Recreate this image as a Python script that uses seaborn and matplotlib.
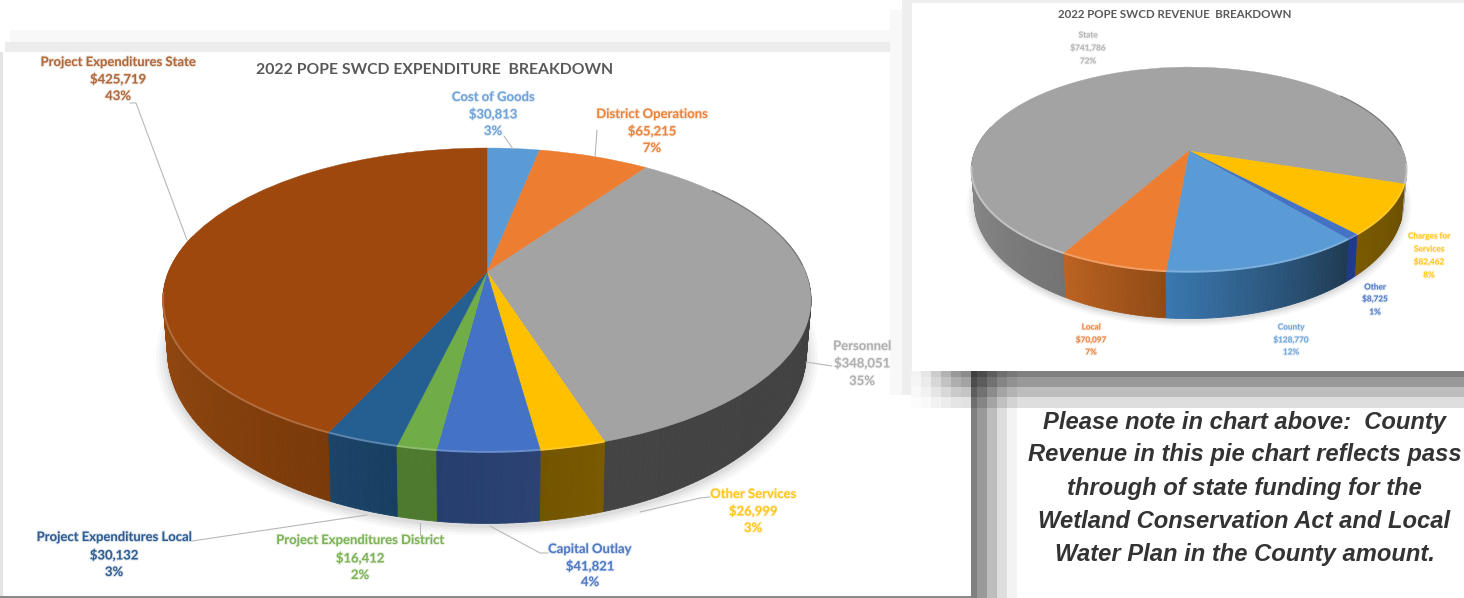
import numpy as np
import matplotlib
matplotlib.use("Agg")
import matplotlib.pyplot as plt
import matplotlib.patheffects as pe
from matplotlib.colors import to_rgb
from matplotlib.patches import Rectangle
from matplotlib.transforms import Transform
import seaborn as sns

sns.set_theme(style="white")
plt.rcParams["font.family"] = ["Lato", "DejaVu Sans"]

# ---- data ----
exp_names = ["Cost of Goods", "District Operations", "Personnel", "Other Services", "Capital Outlay",
             "Project Expenditures District", "Project Expenditures Local", "Project Expenditures State"]
exp_values = [30813, 65215, 348051, 26999, 41821, 16412, 30132, 425719]
exp_pcts = [3, 7, 35, 3, 4, 2, 3, 43]
exp_top = ["#5B9BD5", "#ED7D31", "#A3A3A3", "#FFC000", "#4472C4", "#70AD47", "#255E91", "#9E480E"]
exp_text = ["#6FA3D8", "#E9843F", "#B0B0B0", "#FFC61E", "#4F79C4", "#7DB257", "#2F5D92", "#B0683A"]
exp_side_a = ["#3A6E9F", "#A9561F", "#3F3F3F", "#7A5A00", "#2B4272", "#4E7A2F", "#183F62", "#7A3A0A"]
exp_side_b = ["#3A6E9F", "#A9561F", "#444444", "#735500", "#263E6E", "#4E7A2F", "#1A4468", "#A14F12"]
exp_rim = [0.2, 0.2, 0.0, 0.15, 0.2, 0.2, 0.25, 0.2]

rev_names = ["State", "Charges for\nServices", "Other", "County", "Local"]
rev_values = [741786, 82462, 8725, 128770, 70097]
rev_pcts = [72, 8, 1, 12, 7]
rev_top = ["#A3A3A3", "#FFC000", "#4472C4", "#5B9BD5", "#ED7D31"]
rev_text = ["#B4B4B4", "#FFC61E", "#4F79C4", "#6FA3D8", "#E9843F"]
rev_side_a = ["#737373", "#6B4E00", "#1F3A8A", "#1F3A52", "#8F4A15"]
rev_side_b = ["#A6A6A6", "#7A5A00", "#1F3A8A", "#3A78B0", "#BD6222"]
rev_rim = [0.35, 0.15, 0.2, 0.2, 0.25]

note_lines = ["Please note in chart above:  County",
              "Revenue in this pie chart reflects pass",
              "through of state funding for the",
              "Wetland Conservation Act and Local",
              "Water Plan in the County amount."]


class Perspective(Transform):
    """Maps the unit-circle pie onto a tilted disc in pixel coordinates."""
    input_dims = 2
    output_dims = 2

    def __init__(self, cx, cy, a, b, k):
        super().__init__()
        self.cx, self.cy, self.a, self.b, self.k = cx, cy, a, b, k

    def transform_non_affine(self, values):
        v = np.asarray(values, float)
        d = 1 + self.k * v[:, 1]
        return np.column_stack([self.cx + self.a * v[:, 0] / d, self.cy - self.b * v[:, 1] / d])


W, H = 1464, 598
fig = plt.figure(figsize=(W / 100, H / 100), dpi=100, facecolor="white")
ax = fig.add_axes([0, 0, 1, 1])


def rect(x0, y0, x1, y1, color, z=0):
    ax.add_patch(Rectangle((x0, y0), x1 - x0, y1 - y0, fc=color, ec="none", zorder=z))


def blend(c, other, t):
    c, other = np.array(to_rgb(c)), np.array(to_rgb(other))
    return tuple(c + (other - c) * t)


def draw_pie(values, top, side_a, side_b, rims, start, tmap, bmap, z=5, shadow=3):
    values = np.asarray(values, float)
    frac = values / values.sum()
    edges = start - np.concatenate([[0], np.cumsum(frac)]) * 360

    # soft shadow under the disc
    tt = np.radians(np.linspace(0, 360, 181))
    circ = np.column_stack([np.cos(tt), np.sin(tt)])
    for e, al in [(1.035, .05), (1.025, .06), (1.015, .07), (1.006, .09)]:
        p = bmap.transform_non_affine(circ * e)
        ax.fill(p[:, 0], p[:, 1] + shadow, color="#777777", alpha=al, lw=0, zorder=z)

    # side wall: the colour ramp runs over the visible part of each slice only
    quads = []
    for i in range(len(values)):
        n = max(2, int(abs(edges[i + 1] - edges[i]) / 1.0))
        ang = np.linspace(edges[i], edges[i + 1], n + 1)
        vis = [j for j in range(n) if np.sin(np.radians((ang[j] + ang[j + 1]) / 2)) < 0.25]
        for m, j in enumerate(vis):
            a0, a1 = np.radians(ang[j]), np.radians(ang[j + 1])
            u = np.array([[np.cos(a0), np.sin(a0)], [np.cos(a1), np.sin(a1)]])
            col = blend(side_a[i], side_b[i], (m + .5) / len(vis))
            quads.append((-u[:, 1].mean(), u, col))
    for _, u, col in sorted(quads, key=lambda q: q[0]):
        p0 = tmap.transform_non_affine(u)
        p1 = bmap.transform_non_affine(u[::-1])
        poly = np.vstack([p0, p1])
        ax.fill(poly[:, 0], poly[:, 1], color=col, lw=0.6, ec=col, zorder=z + 1)

    # top surface through the library's own pie
    ax.pie(values, colors=top, startangle=start, counterclock=False, radius=1,
           wedgeprops={"transform": tmap + ax.transData, "linewidth": 0.3})
    for w in ax.patches[-len(values):]:
        w.set_edgecolor(w.get_facecolor())
        w.set_zorder(z + 2)

    # rim highlight along the front edge
    for i in range(len(values)):
        if rims[i] <= 0:
            continue
        ang = np.radians(np.linspace(edges[i], edges[i + 1], 160))
        u = np.column_stack([np.cos(ang), np.sin(ang)])
        p = tmap.transform_non_affine(u)
        p[u[:, 1] > -0.12] = np.nan
        ax.plot(p[:, 0], p[:, 1], color=blend(top[i], "white", rims[i]), lw=1.4, zorder=z + 3,
                solid_capstyle="butt")

    # soft dark edge on the right of the top surface
    ang = np.radians(np.linspace(38, 3, 60))
    p = tmap.transform_non_affine(np.column_stack([np.cos(ang), np.sin(ang)]))
    ax.plot(p[:, 0], p[:, 1], color="#7C7C7C", lw=0.9, zorder=z + 3)


def label(x, ys, lines, color, fs, weight="bold"):
    for y, s in zip(ys, lines):
        ax.text(x, y, s, ha="center", va="center", color=color, fontsize=fs, fontweight=weight, zorder=20,
                path_effects=[pe.withStroke(linewidth=1.4, foreground=color, alpha=.18)])


def leader(xs, ys):
    ax.plot(xs, ys, color="#B8B8B8", lw=0.8, zorder=15)


# ---- panels and shadows ----
rect(0, 0, 1464, 598, "white", 0)
rect(10, 30, 912, 42, "#F8F8F8", 0.5)
rect(5, 42, 912, 52, "#ECECEC", 0.5)
rect(0, 52, 3, 598, "#E4E4E4", 0.5)
rect(3, 52, 971, 596, "white", 1)
rect(0, 596, 971, 598, "#8A8A8A", 1.1)

x_edges = np.array([911, 921, 931, 941, 951, 961, 971, 977, 987, 997, 1007, 1017, 1464])
y_edges = np.array([371, 377, 387, 397, 408, 598])
h_fade = np.array([.10, .20, .40, .60, .80, .90, 1, 1, 1, 1, 1, 1])
col_dark = np.array([0, 0, 0, 0, 0, 0, .50, .40, .26, .13, .05, 0])
row_dark = np.array([.50, .40, .26, .13, 0])
grid = 1 - (1 - np.outer(row_dark, h_fade)) * (1 - col_dark)
ax.pcolormesh(x_edges, y_edges, np.ma.masked_equal(1 - grid, 1.0), cmap="gray", vmin=0, vmax=1,
              zorder=2, linewidth=0, rasterized=True)

rect(890, 10, 902, 395, "#F8F8F8", 1.5)
rect(902, 0, 912, 395, "#EEEEEE", 1.5)
rect(912, 0, 1464, 3, "#EEEEEE", 1.5)
rect(912, 3, 1464, 371, "white", 1.6)

# ---- expenditure pie ----
t_exp = Perspective(487, 272, 318.5, 146.8, 0.184)
b_exp = Perspective(487, 320, 314, 166, 0.184)
draw_pie(exp_values, exp_top, exp_side_a, exp_side_b, exp_rim, 90, t_exp, b_exp)

ax.text(435, 70, "2022 POPE SWCD EXPENDITURE  BREAKDOWN", ha="center", va="center",
        color="#595959", fontsize=11.3, fontweight="bold", zorder=20)

exp_pos = [(493, (97, 114, 131)), (652, (114, 131, 148)), (862, (346, 363, 381)), (753, (494, 511, 528)),
           (590, (549, 566, 582)), (360, (540, 558, 575)), (114, (537, 555, 572)), (118, (62, 79, 96))]
for (x, ys), n, v, p, c in zip(exp_pos, exp_names, exp_values, exp_pcts, exp_text):
    label(x, ys, [n, f"${v:,}", f"{p}%"], c, 9.4)

leader([130, 136, 187], [103, 103, 240])
leader([504, 513], [136, 149])
leader([597, 595], [130, 157])
leader([832, 806], [366, 362])
leader([710, 700, 640], [497, 498, 512])
leader([548, 540, 490], [553, 553, 526])
leader([420, 420], [535, 523])
leader([192, 367], [541, 515])

# ---- revenue pie ----
t_rev = Perspective(1189, 151, 214, 99, 0.18)
b_rev = Perspective(1189, 182, 211, 112, 0.18)
draw_pie(rev_values, rev_top, rev_side_a, rev_side_b, rev_rim, -119.5, t_rev, b_rev, z=7, shadow=2)

ax.text(1175, 15, "2022 POPE SWCD REVENUE  BREAKDOWN", ha="center", va="center",
        color="#595959", fontsize=8.3, fontweight="bold", zorder=20)

rev_pos = [(1088, (35, 48, 61)), (1429, (236, 249, 262, 275)), (1375, (287, 299, 312)),
           (1291, (327, 340, 352)), (1091, (327, 340, 352))]
for (x, ys), n, v, p, c in zip(rev_pos, rev_names, rev_values, rev_pcts, rev_text):
    label(x, ys, n.split("\n") + [f"${v:,}", f"{p}%"], c, 5.9)

# ---- note ----
for y, s in zip([423, 455, 488, 521, 555], note_lines):
    ax.text(1244.5, y, s, ha="center", va="center", fontsize=17.1, fontstyle="italic", fontweight="bold",
            family="Liberation Sans", color="#333333", zorder=20)

ax.set_aspect("auto")
ax.set_xlim(0, W)
ax.set_ylim(H, 0)
ax.set_axis_off()
fig.savefig("out.png", dpi=100)
